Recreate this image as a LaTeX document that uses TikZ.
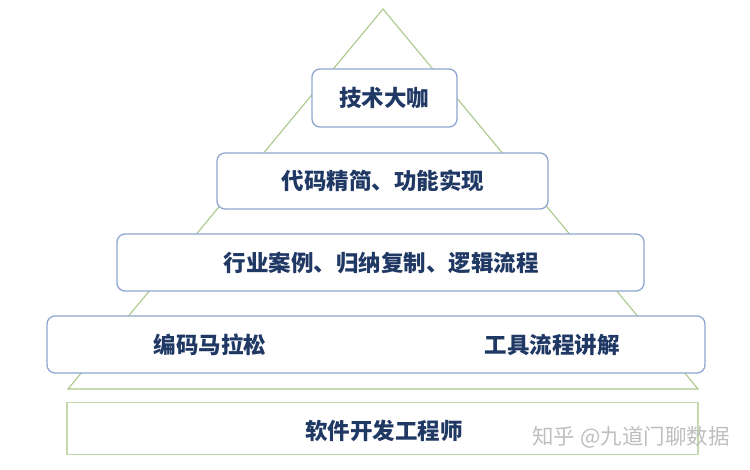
\documentclass[tikz,border=0pt]{standalone}
\usepackage{fontspec}
\newfontfamily\cjk{Noto Sans CJK SC}
\definecolor{tri}{HTML}{A9C88A}
\definecolor{boxline}{HTML}{8EA6CF}
\definecolor{navy}{HTML}{1F3864}
\definecolor{baseline}{HTML}{C2DAAE}
\tikzset{
  levelbox/.style={draw=boxline, line width=1.3pt, fill=white, rounded corners=8pt, inner sep=0pt},
  lbl/.style={font=\cjk\bfseries\fontsize{22.5}{26}\selectfont, text=navy, inner sep=0pt},
}
\begin{document}
\begin{tikzpicture}[x=1pt,y=-1pt]
\useasboundingbox (0,0) rectangle (750,470);
% pyramid outline
\draw[tri, line width=1.1pt, line join=miter] (383,9) -- (68,389) -- (698,389) -- cycle;
% bottom base
\node[draw=baseline, line width=1.2pt, fill=white, minimum width=631pt, minimum height=52pt, inner sep=0pt] (base) at (382.5,428.5) {};
\node[lbl] (baset) at (384,431) {软件开发工程师};
% level 4
\node[levelbox, minimum width=658pt, minimum height=57pt] (l4) at (376,344.5) {};
\node[lbl] (l4a) at (210,345) {编码马拉松};
\node[lbl] (l4b) at (552,345) {工具流程讲解};
% level 3
\node[levelbox, minimum width=527pt, minimum height=57pt] (l3) at (380.5,262.5) {};
\node[lbl] (l3t) at (381,263) {行业案例、归纳复制、逻辑流程};
% level 2
\node[levelbox, minimum width=331pt, minimum height=56pt] (l2) at (382.5,181) {};
\node[lbl] (l2t) at (383,181) {代码精简、功能实现};
% level 1
\node[levelbox, minimum width=145pt, minimum height=58pt] (l1) at (384.5,98) {};
\node[lbl] (l1t) at (384,98) {技术大咖};
% watermark
\node[font=\cjk\fontsize{21.5}{25}\selectfont, text=black!25, inner sep=0pt] (wm) at (631,437) {知乎 @九道门聊数据};
\end{tikzpicture}
\end{document}
